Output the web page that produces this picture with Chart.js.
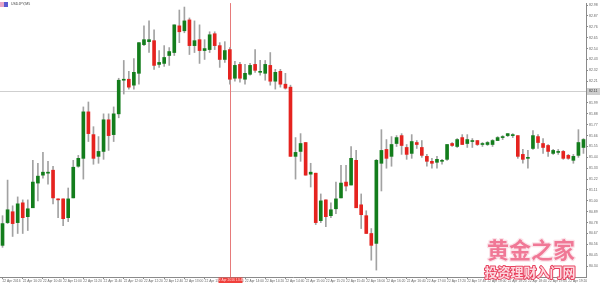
<!DOCTYPE html>
<html><head><meta charset="utf-8">
<script src="https://cdn.jsdelivr.net/npm/chart.js@4.4.1/dist/chart.umd.min.js"></script>
<style>html,body{margin:0;padding:0;background:#fff;overflow:hidden}#wrap{width:600px;height:283px}canvas{display:block}</style>
</head><body><div id="wrap"><canvas id="c" width="600" height="283"></canvas></div>
<script>
const symbolLabel = 'USDJPY,M5';
const opens  = [80.55,80.78,80.89,80.78,80.98,80.84,80.93,81.18,81.26,81.28,81.31,81.02,81.02,80.83,81.03,81.35,81.43,81.90,81.67,81.45,81.50,81.82,81.67,81.88,82.22,82.23,82.17,82.29,82.58,82.61,82.62,82.38,82.39,82.47,82.50,82.77,82.72,82.83,82.57,82.63,82.52,82.53,82.69,82.57,82.43,82.53,82.24,82.38,82.23,82.28,82.38,82.30,82.29,82.37,82.21,82.31,82.18,82.15,81.45,81.50,81.59,81.27,81.28,80.80,81.01,80.85,80.92,81.03,81.19,81.16,81.41,80.96,80.85,80.67,80.57,81.38,81.52,81.45,81.58,81.66,81.54,81.48,81.59,81.54,81.45,81.40,81.39,81.40,81.42,81.58,81.55,81.64,81.58,81.60,81.61,81.57,81.57,81.57,81.61,81.64,81.66,81.66,81.66,81.47,81.43,81.53,81.65,81.58,81.56,81.48,81.49,81.50,81.46,81.41,81.46,81.54];
const highs  = [80.85,81.21,80.95,81.04,81.01,81.01,81.41,81.38,81.49,81.40,81.35,81.02,81.02,81.13,81.41,81.46,81.95,82.00,81.75,81.65,81.88,81.88,81.95,82.24,82.42,82.31,82.44,82.60,82.77,82.82,82.73,82.52,82.57,82.55,82.78,82.93,82.96,82.85,82.82,82.78,82.63,82.71,82.71,82.60,82.61,82.55,82.41,82.40,82.38,82.39,82.53,82.42,82.42,82.50,82.33,82.33,82.29,82.17,81.64,81.68,81.59,81.38,81.28,81.07,81.01,80.98,81.19,81.36,81.36,81.55,81.51,81.07,80.90,80.72,81.42,81.72,81.62,81.65,81.66,81.68,81.57,81.67,81.61,81.61,81.47,81.43,81.45,81.42,81.57,81.59,81.63,81.67,81.67,81.63,81.61,81.59,81.60,81.62,81.65,81.66,81.68,81.68,81.66,81.52,81.51,81.71,81.67,81.63,81.57,81.52,81.52,81.51,81.47,81.47,81.72,81.63];
const lows   = [80.53,80.77,80.64,80.67,80.67,80.70,80.93,81.00,81.23,81.17,80.97,80.83,80.75,80.79,81.03,81.34,81.22,81.60,81.37,81.38,81.42,81.51,81.60,81.84,82.08,82.13,82.13,82.18,82.57,82.50,82.33,82.35,82.36,82.37,82.47,82.60,82.70,82.48,82.50,82.39,82.43,82.50,82.53,82.35,82.40,82.18,82.21,82.20,82.18,82.27,82.30,82.27,82.22,82.17,82.13,82.15,82.13,81.45,81.22,81.40,81.26,81.14,80.76,80.78,80.74,80.83,80.87,81.03,81.10,81.16,80.93,80.72,80.67,80.40,80.30,81.10,81.33,81.35,81.55,81.47,81.42,81.43,81.53,81.44,81.35,81.33,81.33,81.37,81.41,81.55,81.54,81.57,81.54,81.54,81.56,81.55,81.56,81.55,81.61,81.62,81.65,81.64,81.43,81.38,81.33,81.52,81.53,81.48,81.45,81.47,81.47,81.42,81.42,81.38,81.44,81.48];
const closes = [80.77,80.91,80.77,80.97,80.83,80.92,81.19,81.25,81.29,81.29,81.03,81.01,80.82,81.02,81.34,81.43,81.90,81.68,81.43,81.50,81.82,81.66,81.88,82.22,82.23,82.15,82.30,82.60,82.63,82.63,82.37,82.40,82.45,82.51,82.78,82.71,82.82,82.57,82.62,82.52,82.54,82.68,82.57,82.43,82.52,82.23,82.37,82.24,82.29,82.37,82.32,82.31,82.38,82.21,82.30,82.18,82.14,81.45,81.49,81.58,81.26,81.29,80.78,81.00,80.84,80.91,81.02,81.18,81.15,81.43,80.93,80.86,80.67,80.55,81.41,81.51,81.43,81.57,81.64,81.56,81.47,81.60,81.57,81.46,81.40,81.38,81.42,81.41,81.57,81.56,81.62,81.57,81.62,81.60,81.57,81.57,81.59,81.61,81.64,81.64,81.68,81.66,81.45,81.42,81.43,81.66,81.59,81.54,81.50,81.51,81.50,81.43,81.43,81.45,81.59,81.62];
const xTickLabels = ['22 Apr 2016','22 Apr 10:20','22 Apr 10:40','22 Apr 11:00','22 Apr 11:20','22 Apr 11:40','22 Apr 12:00','22 Apr 12:20','22 Apr 12:40','22 Apr 13:00','22 Apr 13:20','22 Apr 13:40','22 Apr 14:00','22 Apr 14:20','22 Apr 14:40','22 Apr 15:00','22 Apr 15:20','22 Apr 15:40','22 Apr 16:00','22 Apr 16:20','22 Apr 16:40','22 Apr 17:00','22 Apr 17:20','22 Apr 17:40','22 Apr 18:00','22 Apr 18:20','22 Apr 18:40','22 Apr 19:00','22 Apr 19:20'];
const yTicks = [80.34,80.45,80.56,80.67,80.78,80.89,81.00,81.11,81.22,81.33,81.44,81.55,81.66,81.77,81.88,81.99,82.10,82.21,82.32,82.43,82.54,82.65,82.76,82.87,82.98];
const hLinePrice = 82.11;
const vLineIndex = 45;
const vLineLabel = '22 Apr 2016 13:45';
const watermark1 = '黄金之家';
const watermark2 = '投资理财入门网';

const categories = [];
for (let i = 0; i < opens.length; i++) {
  const m = 600 + i * 5;
  categories.push('22 Apr ' + String(Math.floor(m / 60)).padStart(2, '0') + ':' + String(m % 60).padStart(2, '0'));
}

const UP = '#137d1c', DOWN = '#e5231f', WICK = '#a2a2a2';
const SMALL = '"Liberation Sans", "DejaVu Sans", sans-serif';

const overlay = {
  id: 'overlay',
  beforeDatasetsDraw(chart) {
    const {ctx, chartArea: a, scales: {x, y}} = chart;
    ctx.save();
    ctx.lineWidth = 1;
    const hy = Math.round(y.getPixelForValue(hLinePrice)) + 0.5;
    ctx.strokeStyle = '#cfcfcf';
    ctx.beginPath(); ctx.moveTo(a.left, hy); ctx.lineTo(a.right, hy); ctx.stroke();
    const vx = Math.round(x.getPixelForValue(vLineIndex)) + 0.5;
    ctx.strokeStyle = '#e67a7a';
    ctx.beginPath(); ctx.moveTo(vx, a.top); ctx.lineTo(vx, a.bottom); ctx.stroke();
    ctx.restore();
  },
  afterDraw(chart) {
    const {ctx, chartArea: a, scales: {x, y}} = chart;
    ctx.save();
    // price label box on axis
    const hy = Math.round(y.getPixelForValue(hLinePrice)) + 0.5;
    ctx.fillStyle = '#cdcdcd';
    ctx.fillRect(a.right + 1, hy - 3.5, 13, 7);
    ctx.fillStyle = '#333';
    ctx.font = '3.5px ' + SMALL;
    ctx.textBaseline = 'middle'; ctx.textAlign = 'left';
    ctx.fillText(hLinePrice.toFixed(2), a.right + 3, hy);
    // time label box for vertical line
    const vx = Math.round(x.getPixelForValue(vLineIndex)) + 0.5;
    ctx.fillStyle = '#f0403c';
    ctx.fillRect(vx - 12, a.bottom + 0.5, 24, 6);
    ctx.fillStyle = '#ffd8d8';
    ctx.font = '3.3px ' + SMALL;
    ctx.textAlign = 'center';
    ctx.fillText(vLineLabel, vx, a.bottom + 3.5);
    // header icon and symbol
    ctx.fillStyle = '#e9a6c8'; ctx.fillRect(0, 2, 4, 5);
    ctx.fillStyle = '#5a5ad0'; ctx.fillRect(4, 2, 4, 5);
    ctx.fillStyle = '#444';
    ctx.font = '3.5px ' + SMALL;
    ctx.textAlign = 'left';
    ctx.fillText(symbolLabel, 11, 4.5);
    // watermark
    ctx.textAlign = 'center';
    ctx.font = 'bold 22px "Noto Sans CJK SC"';
    ctx.lineJoin = 'round';
    ctx.lineWidth = 2.5; ctx.strokeStyle = '#fbe3e9';
    ctx.strokeText(watermark1, 531, 250);
    ctx.fillStyle = '#f07896';
    ctx.fillText(watermark1, 531, 250);
    ctx.font = 'bold 13px "Noto Sans CJK SC"';
    ctx.lineWidth = 2; ctx.strokeStyle = '#e8405e';
    ctx.strokeText(watermark2, 530, 272);
    ctx.fillStyle = '#fcd9e0';
    ctx.fillText(watermark2, 530, 272);
    ctx.restore();
  }
};

new Chart(document.getElementById('c'), {
  type: 'bar',
  data: {
    labels: categories,
    datasets: [
      {
        label: 'wick',
        data: highs.map((h, i) => [lows[i], h]),
        backgroundColor: WICK,
        barThickness: 1,
        grouped: false,
        order: 2
      },
      {
        label: 'body',
        data: opens.map((o, i) => [o, closes[i]]),
        backgroundColor: opens.map((o, i) => closes[i] >= o ? UP : DOWN),
        barThickness: 3,
        minBarLength: 1,
        grouped: false,
        order: 1
      }
    ]
  },
  options: {
    responsive: false,
    devicePixelRatio: 1,
    animation: false,
    layout: {padding: 0},
    plugins: {legend: {display: false}, tooltip: {enabled: false}},
    scales: {
      x: {
        type: 'category',
        offset: true,
        grid: {
          display: true, drawOnChartArea: false, offset: false, tickLength: 2,
          color: ctx => (ctx.index % 4 === 0 ? '#8a8a8a' : 'rgba(0,0,0,0)')
        },
        border: {display: true, color: '#8a8a8a'},
        ticks: {
          autoSkip: false, maxRotation: 0, minRotation: 0, align: 'start', padding: 0,
          color: '#666', font: {size: 3.3, family: SMALL},
          callback: (v, i) => (i % 4 === 0 ? xTickLabels[i / 4] : '')
        },
        afterFit: s => { s.height = 6; }
      },
      y: {
        position: 'right',
        min: 80.23,
        max: 83.00,
        afterBuildTicks: s => { s.ticks = yTicks.map(v => ({value: v})); },
        grid: {display: true, drawOnChartArea: false, tickLength: 2, color: '#8a8a8a'},
        border: {display: true, color: '#8a8a8a'},
        ticks: {
          padding: 1, color: '#666', font: {size: 3.5, family: SMALL},
          callback: v => Number(v).toFixed(2)
        },
        afterFit: s => { s.width = 14; }
      }
    }
  },
  plugins: [overlay]
});
</script>
</body></html>
